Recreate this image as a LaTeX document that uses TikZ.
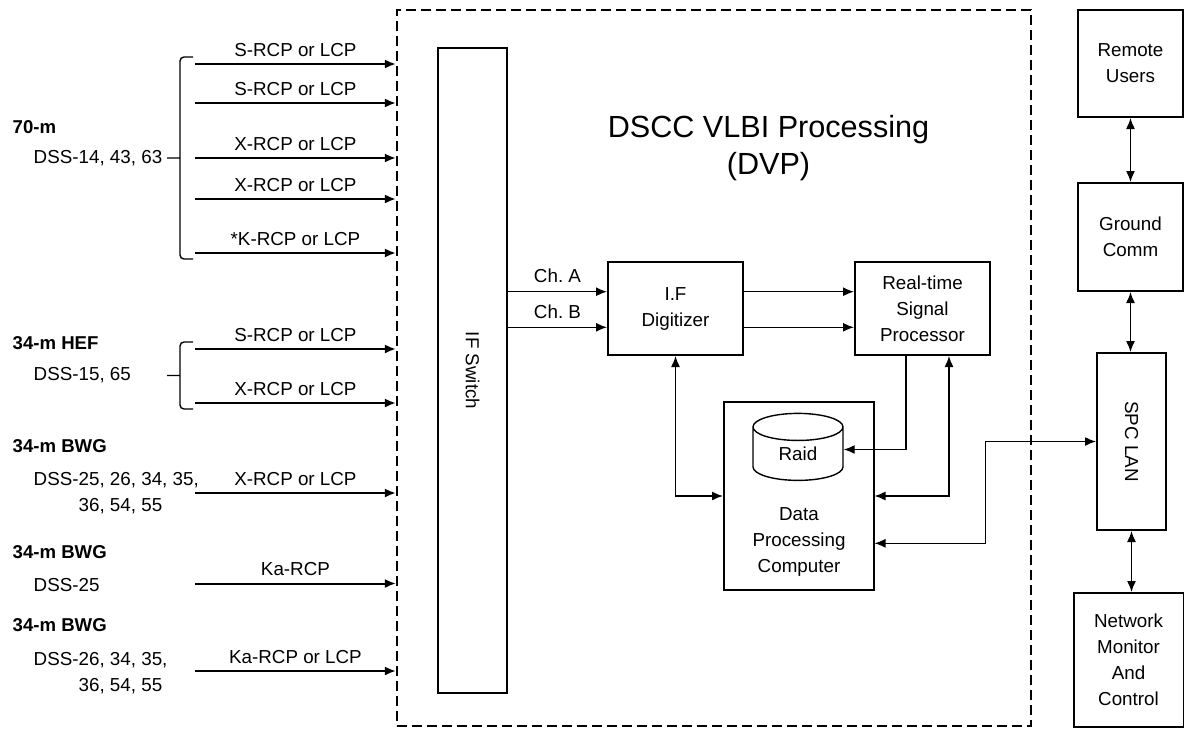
\documentclass[tikz,border=0pt]{standalone}
\usepackage{fontspec}
\setmainfont{Liberation Sans}
\usetikzlibrary{
  calc,
  positioning,
  arrows.meta,
  shapes.geometric}

\begin{document}
\begin{tikzpicture}[
  x=0.5pt,y=-0.5pt,
  >={Latex[length=5.5pt,width=4.5pt]},
  line width=0.7pt,
  every node/.style={font=\fontsize{9.4}{13}\selectfont,align=center},
  blk/.style={draw,line width=1pt,inner sep=0pt},
  lbl/.style={anchor=west,align=left,inner sep=0pt},
  grp/.style={anchor=west,inner sep=0pt,font=\fontsize{9.3}{13}\selectfont\bfseries},
  feed/.style={->,line width=1pt},
  brc/.style={line width=0.7pt,rounded corners=2pt}
]%
  \useasboundingbox (0,0) rectangle (1184,729);

  \node[draw,line width=1.1pt,dash pattern=on 5pt off 2.5pt,inner sep=0pt,
        minimum width=317pt,minimum height=358pt] (dvp) at (714,368) {};
  \node[font=\fontsize{15.3}{18.5}\selectfont] (ttl) at (768.5,148.5) {DSCC VLBI Processing\\(DVP)};

  \node[blk,rotate=-90,minimum width=322.5pt,minimum height=34.5pt] (ifsw) at (472.5,370.5) {IF Switch};
  \node[blk,minimum width=67.5pt,minimum height=46.5pt] (ifd) at (675.5,308.5) {I.F\\Digitizer};
  \node[blk,minimum width=67.5pt,minimum height=46.5pt] (rsp) at (922.5,308.5) {Real-time\\Signal\\Processor};
  \node[blk,minimum width=74.75pt,minimum height=94pt] (dpc) at (798.75,496) {};
  \node (dpct) at (799,542) {Data\\Processing\\Computer};
  \node[draw,cylinder,shape border rotate=90,aspect=0.7,inner sep=0pt,
        minimum width=45pt,minimum height=33.5pt] (raid) at (798,454) {\raisebox{-1.5pt}{Raid}};

  \node[blk,minimum width=52.5pt,minimum height=53.5pt] (ru) at (1130.5,63.5) {Remote\\Users};
  \node[blk,minimum width=52.5pt,minimum height=54pt] (gc) at (1130.5,237) {Ground\\Comm};
  \node[blk,rotate=-90,minimum width=88.5pt,minimum height=34.5pt] (lan) at (1131.5,441.5) {SPC LAN};
  \node[blk,minimum width=55pt,minimum height=67pt] (nmc) at (1128.5,660) {Network\\Monitor\\And\\Control};

  \node[grp] (g70) at (12,127) {70-m};
  \node[lbl] (d70) at (33,158) {DSS-14, 43, 63};
  \node[grp] (ghef) at (12,343) {34-m HEF};
  \node[lbl] (dhef) at (33,375.5) {DSS-15, 65};
  \node[grp] (gbwga) at (12,446) {34-m BWG};
  \node[lbl] (dbwga) at (33,493) {DSS-25, 26, 34, 35,\\\phantom{DSS-}36, 54, 55};
  \node[grp] (gbwgb) at (12,552) {34-m BWG};
  \node[lbl] (dbwgb) at (33,585) {DSS-25};
  \node[grp] (gbwgc) at (12,625.5) {34-m BWG};
  \node[lbl] (dbwgc) at (33,673) {DSS-26, 34, 35,\\\phantom{DSS-}36, 54, 55};

  \draw[brc] (193,57) -- (180,57) -- (180,259) -- (193,259) (180,158) -- (167,158);
  \draw[brc] (193,342) -- (180,342) -- (180,409) -- (193,409) (180,375.5) -- (167,375.5);

  \foreach \y/\txt [count=\i] in {64/S-RCP or LCP,103/S-RCP or LCP,158/X-RCP or LCP,
      199/X-RCP or LCP,253/*K-RCP or LCP,349/S-RCP or LCP,403/X-RCP or LCP,
      493/X-RCP or LCP,583.5/Ka-RCP,671/Ka-RCP or LCP}{
    \coordinate (in\i) at (195,\y);
    \draw[feed] (in\i) -- (dvp.west |- in\i) node[midway,above] {\txt};
  }

  \draw[->] ([yshift=8.4pt]ifd.west -| ifsw.north) -- ([yshift=8.4pt]ifd.west) node[midway,above=0.8pt] {Ch.\ A};
  \draw[->] ([yshift=-9.4pt]ifd.west -| ifsw.north) -- ([yshift=-9.4pt]ifd.west) node[midway,above=0.8pt] {Ch.\ B};
  \draw[->] ([yshift=8.4pt]ifd.east) -- ([yshift=8.4pt]rsp.west);
  \draw[->] ([yshift=-9.4pt]ifd.east) -- ([yshift=-9.4pt]rsp.west);
  \draw[<->] (ifd.south) |- (dpc.west);
  \draw[->] ([xshift=-8.25pt]rsp.south) |- ([yshift=2.25pt]raid.east);
  \draw[<->] ([xshift=13.25pt]rsp.south) |- (dpc.east);
  \draw[<->] (lan.south) -| ([xshift=55.5pt,yshift=-23.65pt]dpc.east) -- ([yshift=-23.65pt]dpc.east);

  \draw[<->] (ru) -- (gc);
  \draw[<->] (gc.south) -- (gc.south |- lan.west);
  \draw[<->] (lan.east) -- (lan.east |- nmc.north);
\end{tikzpicture}
\end{document}
